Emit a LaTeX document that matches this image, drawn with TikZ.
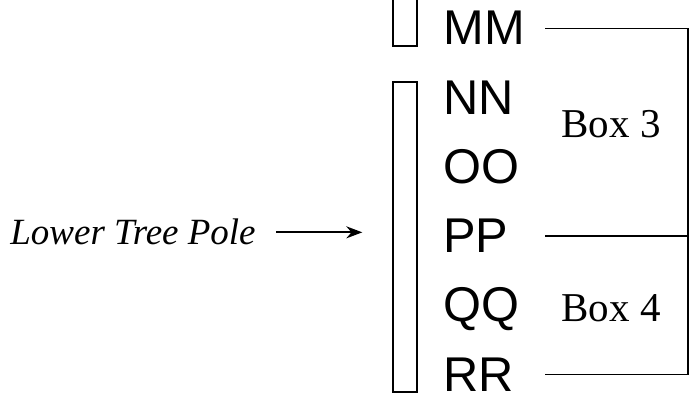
\documentclass[tikz,border=0pt]{standalone}
\usepackage{fontspec}
\setmainfont{Liberation Serif}
\setsansfont{Liberation Sans}
\usetikzlibrary{arrows.meta,positioning}

\begin{document}
\begin{tikzpicture}[
  x=0.5pt, y=-0.5pt,
  rowlabel/.style={anchor=base west, inner sep=0pt, font=\sffamily\fontsize{24.4}{28}\selectfont},
  boxlabel/.style={anchor=base west, inner sep=0pt, font=\rmfamily\fontsize{20.5}{24}\selectfont},
  polebox/.style={draw, line width=0.7pt, minimum width=12pt, inner sep=0pt},
  link/.style={line width=0.7pt},
  pointer/.style={line width=1pt, -{Stealth[length=8pt,width=6pt]}},
]
\useasboundingbox (0,0) rectangle (689,394);

% Pole pieces
\node[polebox, minimum height=25.5pt] (upper) at (405,20.5) {};
\node[polebox, minimum height=155pt] (lower) at (405,237) {};

% Row labels
\foreach \lab [count=\i from 0] in {MM,NN,OO,PP,QQ,RR}
  \node[rowlabel] (\lab) at (443, 45+69.2*\i) {\lab};

% Box labels
\node[boxlabel] (box3) at (561,138) {Box 3};
\node[boxlabel] (box4) at (561,322) {Box 4};

% Bracket lines
\coordinate (lineX) at (545,0);
\coordinate (rail) at (688,0);
\draw[link] (MM.east -| lineX) -- (MM.east -| rail) -- (RR.east -| rail) -- (RR.east -| lineX);
\draw[link] (PP.east -| lineX) -- (PP.east -| rail);

% Pole label
\node[anchor=base west, inner sep=0pt, font=\rmfamily\itshape\fontsize{18.5}{22}\selectfont] (treelbl) at (10,245) {Lower Tree Pole};
\draw[pointer, shorten <=10pt, shorten >=15pt] (treelbl.east) -- (treelbl.east -| lower.west);

\end{tikzpicture}
\end{document}
